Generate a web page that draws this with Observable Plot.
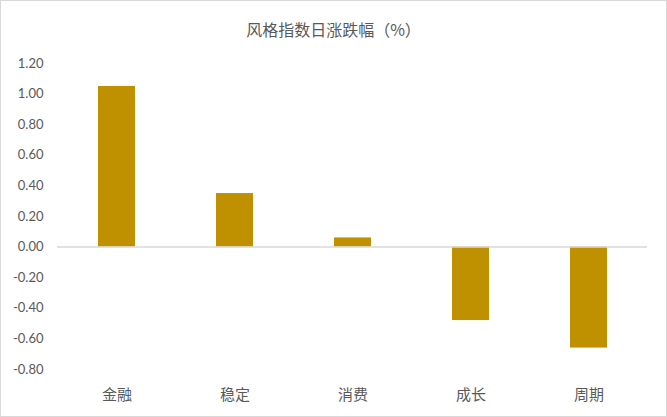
<!DOCTYPE html>
<html>
<head>
<meta charset="utf-8">
<script src="https://cdn.jsdelivr.net/npm/d3@7"></script>
<script src="https://cdn.jsdelivr.net/npm/@observablehq/plot@0.6"></script>
<style>
  html, body { margin: 0; padding: 0; background: #fff; }
  #wrap { position: relative; width: 667px; height: 417px; overflow: hidden; }
  #frame { position: absolute; left: 0; top: 0; width: 667px; height: 417px; box-sizing: border-box; border: 1px solid #d9d9d9; pointer-events: none; }
  #title { position: absolute; left: 0; top: 19px; width: 667px; text-align: center; font-family: "Noto Sans CJK SC", sans-serif; font-size: 16px; color: #595959; line-height: 20px; }
  #chart { position: absolute; left: 0; top: 0; }
</style>
</head>
<body>
<div id="wrap">
  <div id="chart"></div>
  <div id="title">风格指数日涨跌幅（%）</div>
  <div id="frame"></div>
</div>
<script>
const categories = ["金融", "稳定", "消费", "成长", "周期"];
const values = [1.05, 0.35, 0.06, -0.48, -0.66];
const yTicks = [1.2, 1.0, 0.8, 0.6, 0.4, 0.2, 0.0, -0.2, -0.4, -0.6, -0.8];

const data = categories.map((c, i) => ({ cat: c, val: values[i] }));

const chart = Plot.plot({
  width: 667,
  height: 417,
  marginLeft: 57,
  marginRight: 20,
  marginTop: 63,
  marginBottom: 48,
  style: { background: "transparent", color: "#595959", overflow: "visible" },
  x: { domain: categories, paddingInner: 0.69, paddingOuter: 0.345, label: null },
  y: { domain: [-0.8, 1.2], label: null },
  marks: [
    Plot.axisY({
      ticks: yTicks,
      tickSize: 0,
      tickPadding: 14,
      tickFormat: d => d.toFixed(2),
      fontSize: 13,
      fontFamily: "Lato, 'Open Sans', sans-serif",
      fill: "#595959",
      label: null
    }),
    Plot.axisX({
      tickSize: 0,
      tickPadding: 20,
      fontSize: 15,
      fontFamily: "'Noto Sans CJK SC', sans-serif",
      fill: "#595959",
      label: null
    }),
    Plot.barY(data, { x: "cat", y: "val", fill: "#BF9000" }),
    Plot.ruleY([0], { stroke: "#d9d9d9", strokeWidth: 1.5 })
  ]
});
document.getElementById("chart").appendChild(chart);
</script>
</body>
</html>
